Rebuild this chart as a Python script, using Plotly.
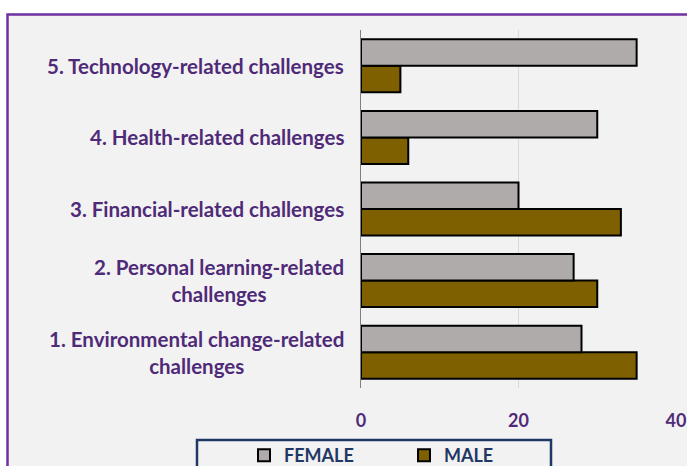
import plotly.graph_objects as go

categories = [
    "1. Environmental change-related<br>challenges",
    "2. Personal learning-related<br>challenges",
    "3. Financial-related challenges",
    "4. Health-related challenges",
    "5. Technology-related challenges",
]
female = [28, 27, 20, 30, 35]
male = [35, 30, 33, 6, 5]
x_ticks = [0, 20, 40]

W, H = 687, 466
L, R, T, B = 361, 11, 30, 78  # plot area pixel margins
pw = W - L - R
ph = H - T - B

def px_x(p):
    return (p - L) / pw

def px_y(p):
    return (H - B - p) / ph

TEXT = "#4f2a78"
FONT = "Lato"

fig = go.Figure()
fig.add_trace(go.Bar(
    y=categories, x=male, name="MALE", orientation="h",
    marker=dict(color="#7f6000", line=dict(color="#000000", width=2)),
    legendrank=2,
))
fig.add_trace(go.Bar(
    y=categories, x=female, name="FEMALE", orientation="h",
    marker=dict(color="#afabab", line=dict(color="#000000", width=2)),
    legendrank=1,
))

shapes = [
    dict(type="rect", xref="paper", yref="paper", layer="below",
         x0=px_x(7.5), x1=px_x(720), y0=px_y(500), y1=px_y(14.5),
         fillcolor="#f2f2f2", line=dict(color="#7030a0", width=2.5)),
    dict(type="rect", xref="paper", yref="paper", layer="above",
         x0=px_x(197), x1=px_x(551), y0=px_y(500), y1=px_y(440),
         fillcolor="rgba(0,0,0,0)", line=dict(color="#1f3864", width=2.5)),
]

annotations = [
    dict(text=c, xref="paper", yref="y", x=px_x(346), y=c, xanchor="right",
         yanchor="middle", align="center", showarrow=False,
         font=dict(family=FONT, size=20.5, color=TEXT, weight="bold"))
    for c in categories
]

fig.update_layout(
    width=W, height=H,
    margin=dict(l=L, r=R, t=T, b=B, pad=0, autoexpand=False),
    paper_bgcolor="#ffffff",
    plot_bgcolor="rgba(0,0,0,0)",
    barmode="group", bargap=0.26, bargroupgap=0,
    shapes=shapes,
    annotations=annotations,
    showlegend=True,
    legend=dict(
        orientation="h", x=px_x(244), y=px_y(437), xanchor="left", yanchor="top",
        bgcolor="rgba(0,0,0,0)", borderwidth=0,
        entrywidth=115, entrywidthmode="pixels",
        font=dict(family=FONT, size=18, color="#1f3864", weight="bold"),
    ),
    xaxis=dict(
        range=[0, 40], tickvals=x_ticks, showgrid=True, gridcolor="#d9d9d9",
        gridwidth=1, zeroline=False, showline=False,
        ticks="outside", ticklen=16, tickcolor="rgba(0,0,0,0)",
        tickfont=dict(family=FONT, size=18, color=TEXT, weight="bold"),
    ),
    yaxis=dict(
        showticklabels=False, showgrid=False, zeroline=False,
        showline=True, linecolor="#7f7f7f", linewidth=1, ticks="",
    ),
)

fig.write_html("out.html", config={"displayModeBar": False},
               post_script="document.body.style.margin='0';")
